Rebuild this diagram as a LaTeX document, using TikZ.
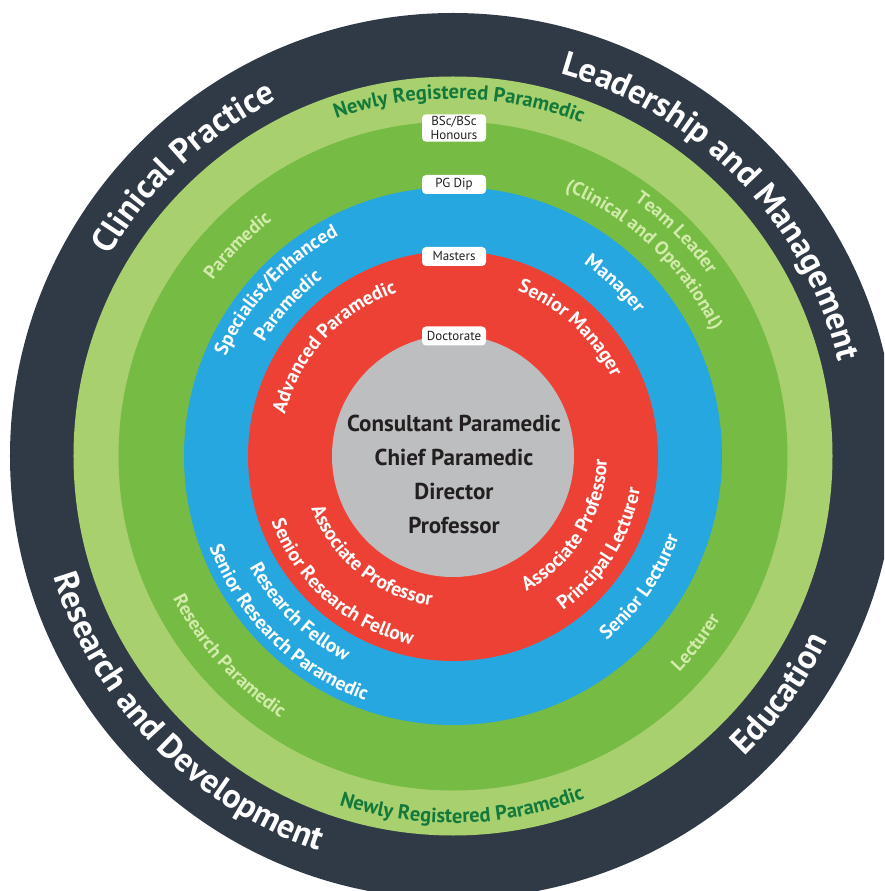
\documentclass[tikz,border=0pt]{standalone}
\usepackage{fontspec}
\setmainfont{PT Sans}
\usetikzlibrary{decorations.text}

\definecolor{navy}{HTML}{2F3A46}
\definecolor{palegreen}{HTML}{A9D06F}
\definecolor{midgreen}{HTML}{76BB43}
\definecolor{skyblue}{HTML}{27A7DF}
\definecolor{brightred}{HTML}{EE4136}
\definecolor{coregray}{HTML}{BDBEC0}
\definecolor{deepgreen}{HTML}{13793B}
\definecolor{leafgreen}{HTML}{D2EBAB}
\definecolor{ink}{HTML}{231F20}

\newcommand{\titlefont}{\fontsize{34}{34}\selectfont\bfseries\color{white}}
\newcommand{\entryfont}{\fontsize{20.5}{20}\selectfont\bfseries\color{deepgreen}}
\newcommand{\greenfont}{\fontsize{19}{19}\selectfont\bfseries\color{leafgreen}}
\newcommand{\whitefont}{\fontsize{19.5}{19}\selectfont\bfseries\color{white}}

% text on an arc: font, middle angle, radius, text
\newcommand{\toplabel}[4]{%
  \path[decorate, decoration={text along path, text align=center, text={|#1|#4}}]
    ({#2+80}:#3) arc[start angle=#2+80, end angle=#2-80, radius=#3];}
\newcommand{\botlabel}[4]{%
  \path[decorate, decoration={text along path, text align=center, text={|#1|#4}}]
    ({#2-80}:#3) arc[start angle=#2-80, end angle=#2+80, radius=#3];}

\tikzset{
  degree/.style={fill=white, rounded corners=4pt, text=ink, align=center,
    font=\fontsize{13}{14}\selectfont, minimum width=64pt, minimum height=19pt, inner sep=2pt},
  core/.style={text=ink, align=center, inner sep=0pt,
    font=\fontsize{23}{34}\selectfont\bfseries},
}

\begin{document}
\begin{tikzpicture}[x=1pt, y=1pt]
  \useasboundingbox (-453,-435) rectangle (431,456);
  \fill[white] (-453,-435) rectangle (431,456);
  \clip (-453,-435) rectangle (431,456);

  % rings, outside in
  \foreach \r/\c in {443/navy, 379.5/palegreen, 334.5/midgreen, 269/skyblue, 205/brightred, 121/coregray}
    \fill[\c] (0,0) circle[radius=\r];

  % pathways
  \toplabel{\titlefont}{133}{397}{Clinical Practice}
  \toplabel{\titlefont}{44}{397}{Leadership and Management}
  \botlabel{\titlefont}{224}{417}{Research and Development}
  \botlabel{\titlefont}{324}{418}{Education}

  \toplabel{\entryfont}{89}{357}{Newly Registered Paramedic}
  \botlabel{\entryfont}{271.5}{367}{Newly Registered Paramedic}

  \toplabel{\greenfont}{135.7}{297}{Paramedic}
  \toplabel{\greenfont}{45}{313}{Team Leader}
  \toplabel{\greenfont}{46.5}{288}{(Clinical and Operational)}
  \botlabel{\greenfont}{221.8}{314}{Research Paramedic}
  \botlabel{\greenfont}{322.5}{313}{Lecturer}

  \toplabel{\whitefont}{136.9}{248}{Specialist/Enhanced}
  \toplabel{\whitefont}{137.7}{220}{Paramedic}
  \toplabel{\whitefont}{46.8}{232}{Manager}
  \botlabel{\whitefont}{225.5}{232}{Research Fellow}
  \botlabel{\whitefont}{225.4}{260}{Senior Research Paramedic}
  \botlabel{\whitefont}{325}{240}{Senior Lecturer}

  \toplabel{\whitefont}{137.5}{173}{Advanced Paramedic}
  \toplabel{\whitefont}{47.5}{177}{Senior Manager}
  \botlabel{\whitefont}{231}{151}{Associate Professor}
  \botlabel{\whitefont}{228.8}{193}{Senior Research Fellow}
  \botlabel{\whitefont}{328.6}{154}{Associate Professor}
  \botlabel{\whitefont}{327.7}{190}{Principal Lecturer}

  % qualifications
  \node[degree] (bsc) at (1,328) {BSc/BSc\\Honours};
  \node[degree] (pgdip) at (1,271.5) {PG Dip};
  \node[degree] (masters) at (1,199.5) {Masters};
  \node[degree] (doctorate) at (1,120) {Doctorate};

  \node[core] (top) at (1,-18) {Consultant Paramedic\\Chief Paramedic\\Director\\Professor};
\end{tikzpicture}
\end{document}
